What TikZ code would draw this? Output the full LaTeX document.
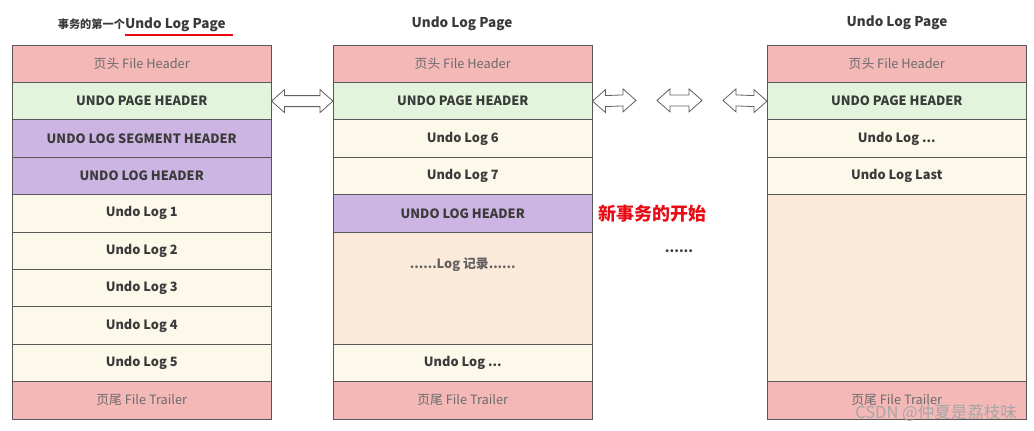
\documentclass[tikz,border=0pt]{standalone}
\usepackage{fontspec}
\setmainfont{Noto Sans CJK SC}
\usetikzlibrary{positioning,calc}
\definecolor{hdrred}{RGB}{244,184,183}
\definecolor{hdrgreen}{RGB}{226,244,219}
\definecolor{hdrpurple}{RGB}{205,181,227}
\definecolor{logcream}{RGB}{252,248,234}
\definecolor{recpeach}{RGB}{251,234,217}
\definecolor{linegray}{RGB}{88,88,88}
\definecolor{txtgray}{RGB}{58,58,58}
\definecolor{newred}{RGB}{232,10,20}
\newcommand{\hollowarrow}[2]{%
  \draw[link] let \p1=(#1), \p2=(#2) in
    (\x1,\y1) -- (\x1+13pt,\y1+11.5pt) -- (\x1+13pt,\y1+5.5pt) -- (\x2-13pt,\y2+5.5pt)
    -- (\x2-13pt,\y2+11.5pt) -- (\x2,\y2) -- (\x2-13pt,\y2-11.5pt) -- (\x2-13pt,\y2-5.5pt)
    -- (\x1+13pt,\y1-5.5pt) -- (\x1+13pt,\y1-11.5pt) -- cycle;}

\begin{document}
\begin{tikzpicture}[x=1pt,y=-1pt,node distance=0pt,inner sep=0pt,outer sep=0pt]
	\tikzstyle{page}=[draw=linegray,line width=0.9pt,minimum width=259.5pt,minimum height=37.4pt,text=txtgray,font=\fontsize{12.8}{14}\selectfont\bfseries]
	\tikzstyle{filehdr}=[page,fill=hdrred,text=txtgray!75,font=\fontsize{12.8}{14}\selectfont]
	\tikzstyle{pagehdr}=[page,fill=hdrgreen]
	\tikzstyle{loghdr}=[page,fill=hdrpurple]
	\tikzstyle{undolog}=[page,fill=logcream]
	\tikzstyle{logrec}=[page,fill=recpeach]
	\tikzstyle{title}=[text=txtgray,font=\fontsize{13.5}{15}\selectfont\bfseries]
	\tikzstyle{link}=[draw=gray!75!black,line width=0.8pt,fill=white,line join=miter]
	
	\useasboundingbox (0,0) rectangle (1034,431);
	
	% first page of the transaction
	\node[title,anchor=west] (T1b) at (125,25) {Undo Log Page};
	\node[title,font=\fontsize{11.2}{13}\selectfont\bfseries,anchor=base east] (T1a) at (T1b.base west) {事务的第一个};
	\draw[draw=newred,line width=1.2pt] ([yshift=-3pt]T1b.south west) -- ([xshift=7pt,yshift=-3pt]T1b.south east);
	
	\node[filehdr,anchor=north west] (A1) at (12,45) {页头 File Header};
	\node[pagehdr] (A2) [below=of A1] {UNDO PAGE HEADER};
	\node[loghdr]  (A3) [below=of A2] {UNDO LOG SEGMENT HEADER};
	\node[loghdr]  (A4) [below=of A3] {UNDO LOG HEADER};
	\node[undolog] (A5) [below=of A4] {Undo Log 1};
	\node[undolog] (A6) [below=of A5] {Undo Log 2};
	\node[undolog] (A7) [below=of A6] {Undo Log 3};
	\node[undolog] (A8) [below=of A7] {Undo Log 4};
	\node[undolog] (A9) [below=of A8] {Undo Log 5};
	\node[filehdr] (A10) [below=of A9] {页尾 File Trailer};
	
	% second page
	\node[title] (T2) at (462,24) {Undo Log Page};
	\node[filehdr,anchor=north west] (B1) at (333,45) {页头 File Header};
	\node[pagehdr] (B2) [below=of B1] {UNDO PAGE HEADER};
	\node[undolog] (B3) [below=of B2] {Undo Log 6};
	\node[undolog] (B4) [below=of B3] {Undo Log 7};
	\node[loghdr]  (B5) [below=of B4] {UNDO LOG HEADER};
	\node[logrec,minimum height=112.2pt] (B6) [below=of B5] {};
	\node[page,draw=none,text=txtgray!80] at ([yshift=-33pt]B6.north) {......Log 记录......};
	\node[undolog] (B7) [below=of B6] {Undo Log ...};
	\node[filehdr] (B8) [below=of B7] {页尾 File Trailer};
	
	\node[text=newred,font=\fontsize{18}{20}\selectfont\bfseries] (N) [right=6pt of B5] {新事务的开始};
	\node[title] (D) at (679,251) {......};
	
	% last page
	\node[title] (T3) at (897,23) {Undo Log Page};
	\node[filehdr,anchor=north west] (C1) at (767,45) {页头 File Header};
	\node[pagehdr] (C2) [below=of C1] {UNDO PAGE HEADER};
	\node[undolog] (C3) [below=of C2] {Undo Log ...};
	\node[undolog] (C4) [below=of C3] {Undo Log Last};
	\node[logrec,minimum height=187pt] (C5) [below=of C4] {};
	\node[filehdr] (C6) [below=of C5] {页尾 File Trailer};
	
	% links between pages
	\coordinate (M1) at (636,100.4);
	\coordinate (M2) at (657,100.4);
	\coordinate (M3) at (702,100.4);
	\coordinate (M4) at (723,100.4);
	\hollowarrow{A2.east}{B2.west}
	\hollowarrow{B2.east}{M1}
	\hollowarrow{M2}{M3}
	\hollowarrow{M4}{C2.west}
	
	\node[text=gray!70,font=\fontsize{16.5}{18}\selectfont] (W) at (936,413) {CSDN @仲夏是荔枝味};
\end{tikzpicture}
\end{document}
